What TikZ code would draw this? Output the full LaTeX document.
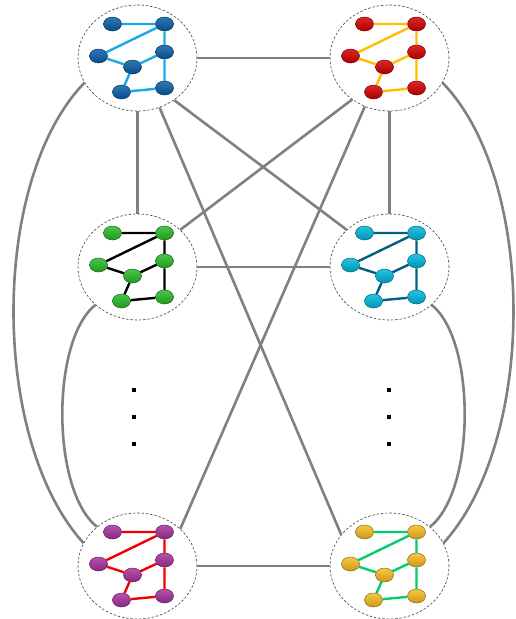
\documentclass[tikz,border=0pt]{standalone}
\usetikzlibrary{shapes.geometric}
\definecolor{nBlue}{RGB}{10,95,170}
\definecolor{eBlue}{RGB}{25,170,230}
\definecolor{nRed}{RGB}{215,0,0}
\definecolor{eGold}{RGB}{255,190,0}
\definecolor{nGreen}{RGB}{40,190,40}
\definecolor{eBlack}{RGB}{0,0,0}
\definecolor{nCyan}{RGB}{0,185,222}
\definecolor{eTeal}{RGB}{0,95,130}
\definecolor{nPurple}{RGB}{170,50,160}
\definecolor{eRed}{RGB}{240,0,0}
\definecolor{nGold}{RGB}{250,190,30}
\definecolor{eGreen}{RGB}{0,205,110}
\definecolor{connGray}{RGB}{128,128,128}
\tikzset{
  cluster/.style={ellipse, draw=black!75, dash pattern=on 2.5pt off 1.8pt, line width=0.6pt,
    minimum width=119pt, minimum height=106pt, inner sep=0pt},
  vert/.style={ellipse, minimum width=18pt, minimum height=14pt, inner sep=0pt,
    draw=#1!55!black, line width=0.5pt, top color=#1!85!white, bottom color=#1!80!black},
  link/.style={line width=2.4pt, draw=#1},
  conn/.style={line width=2.6pt, draw=connGray},
  dotn/.style={rectangle, fill=black, inner sep=0pt, minimum size=3.6pt}
}
\newcommand\mkcluster[5]{%
  \node[cluster] (#1) at (#2,#3) {};
  \begin{scope}[shift={(#2,#3)}]
    \node[vert=#4] (#1a) at (-25,-34) {};
    \node[vert=#4] (#1b) at (27,-34) {};
    \node[vert=#4] (#1c) at (-39,-2) {};
    \node[vert=#4] (#1d) at (27,-6) {};
    \node[vert=#4] (#1e) at (-5,9) {};
    \node[vert=#4] (#1f) at (-16,34) {};
    \node[vert=#4] (#1g) at (27,30) {};
  \end{scope}
  \draw[link=#5] (#1a) -- (#1b) (#1b) -- (#1c) (#1b) -- (#1d) (#1c) -- (#1e)
    (#1d) -- (#1e) (#1d) -- (#1g) (#1e) -- (#1f) (#1f) -- (#1g);
}
\begin{document}
\begin{tikzpicture}[x=1pt,y=-1pt]
\useasboundingbox (0,0) rectangle (516,619);
\mkcluster{TL}{137.5}{58}{nBlue}{eBlue}
\mkcluster{TR}{389.5}{58}{nRed}{eGold}
\mkcluster{ML}{137.5}{267}{nGreen}{eBlack}
\mkcluster{MR}{389.5}{267}{nCyan}{eTeal}
\mkcluster{BL}{137.5}{566}{nPurple}{eRed}
\mkcluster{BR}{389.5}{566}{nGold}{eGreen}
% straight connectors
\draw[conn] (TL) -- (TR);
\draw[conn] (ML) -- (MR);
\draw[conn] (BL) -- (BR);
\draw[conn] (TL) -- (ML);
\draw[conn] (TR) -- (MR);
\draw[conn] (TL.311) -- (MR.139);
\draw[conn] (TL.294) -- (BR.147);
\draw[conn] (TR.228) -- (ML.41);
\draw[conn] (TR.243) -- (BL.41);
% curved connectors
\draw[conn] (TL.205) .. controls (-10,180) and (-10,440) .. (BL.157);
\draw[conn] (ML.222) .. controls (51,340) and (51,490) .. (BL.136);
\draw[conn] (TR.335) .. controls (537,180) and (537,440) .. (BR.23);
\draw[conn] (MR.318) .. controls (476,340) and (476,490) .. (BR.44);
% vertical dots
\node[dotn] (dl1) at (134,390) {};
\node[dotn] (dl2) at (134,417) {};
\node[dotn] (dl3) at (134,444) {};
\node[dotn] (dr1) at (389,390) {};
\node[dotn] (dr2) at (389,417) {};
\node[dotn] (dr3) at (389,444) {};
\end{tikzpicture}
\end{document}
